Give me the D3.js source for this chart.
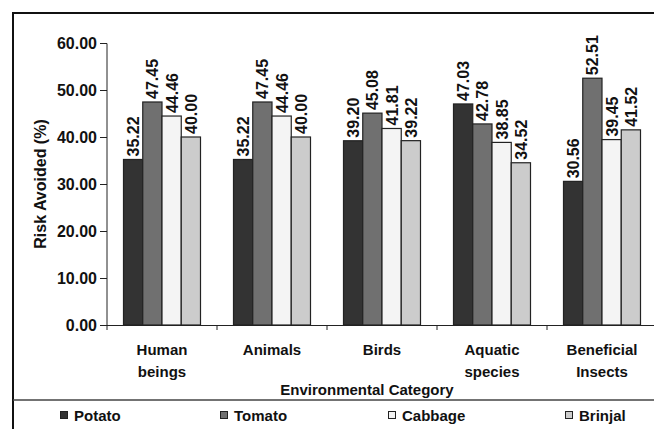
<!DOCTYPE html>
<html>
<head>
<meta charset="utf-8">
<script src="https://cdn.jsdelivr.net/npm/d3@7"></script>
<style>
  html, body { margin: 0; padding: 0; background: #fff; }
  svg { display: block; font-family: "Liberation Sans", Arial, sans-serif; }
</style>
</head>
<body>
<svg id="chart" width="654" height="429"></svg>
<script>
// Risk avoided (%) by environmental category and crop
const categories = [["Human", "beings"], ["Animals"], ["Birds"], ["Aquatic", "species"], ["Beneficial", "Insects"]];
const series = ["Potato", "Tomato", "Cabbage", "Brinjal"];
const potato  = [35.22, 35.22, 39.20, 47.03, 30.56];
const tomato  = [47.45, 47.45, 45.08, 42.78, 52.51];
const cabbage = [44.46, 44.46, 41.81, 38.85, 39.45];
const brinjal = [40.00, 40.00, 39.22, 34.52, 41.52];
const yTicks = [0, 10, 20, 30, 40, 50, 60];
const colors = ["#333333", "#707070", "#f4f4f4", "#cccccc"];

const values = [potato, tomato, cabbage, brinjal];
const catKeys = categories.map(c => c.join(" "));

const svg = d3.select("#chart");

// outer frame and legend separator
svg.append("path")
  .attr("d", "M13,429 V13 H654")
  .attr("fill", "none").attr("stroke", "#111").attr("stroke-width", 2);
svg.append("line")
  .attr("x1", 13).attr("x2", 654).attr("y1", 400).attr("y2", 400)
  .attr("stroke", "#444").attr("stroke-width", 1.5);

const x0 = d3.scaleBand().domain(catKeys).range([107, 657]).padding(0);
const x1 = d3.scaleBand().domain(series).range([16.5, x0.bandwidth() - 16.5]).padding(0);
const y = d3.scaleLinear().domain([0, 60]).range([325, 43]);

// y axis
const yAxis = svg.append("g").attr("transform", "translate(107,0)")
  .call(d3.axisLeft(y).tickValues(yTicks).tickSize(7).tickFormat(d3.format(".2f")));
yAxis.select(".domain").attr("stroke", "#222").attr("d", "M-7,43.5H0V325.5");
yAxis.selectAll(".tick line").attr("stroke", "#222");
yAxis.selectAll(".tick text")
  .attr("x", -10).attr("dy", "0.36em")
  .style("font-size", "16px").style("font-weight", "bold").attr("fill", "#111")
  .style("font-family", "'Liberation Sans', Arial, sans-serif");

// x axis
const xAxis = svg.append("g").attr("transform", "translate(0,325)")
  .call(d3.axisBottom(x0).tickSize(5).tickFormat(""));
xAxis.select(".domain").attr("stroke", "#222").attr("d", "M107,0.5H657");
xAxis.selectAll(".tick line")
  .attr("transform", `translate(${-x0.bandwidth() / 2},0)`).attr("stroke", "#222");

// category labels
const catLabels = svg.append("g");
categories.forEach((lines, i) => {
  const t = catLabels.append("text")
    .attr("x", x0(catKeys[i]) + x0.bandwidth() / 2)
    .attr("y", 355)
    .attr("text-anchor", "middle")
    .style("font-size", "15px").style("font-weight", "bold").attr("fill", "#111");
  lines.forEach((ln, j) => t.append("tspan")
    .attr("x", x0(catKeys[i]) + x0.bandwidth() / 2)
    .attr("dy", j === 0 ? 0 : 22).text(ln));
});

// bars
const groups = svg.append("g").selectAll("g")
  .data(catKeys).join("g")
  .attr("transform", d => `translate(${x0(d)},0)`);

groups.selectAll("rect")
  .data((d, i) => series.map((s, k) => ({ s, k, v: values[k][i] })))
  .join("rect")
  .attr("x", d => x1(d.s))
  .attr("width", x1.bandwidth())
  .attr("y", d => y(d.v))
  .attr("height", d => y(0) - y(d.v))
  .attr("fill", d => colors[d.k])
  .attr("stroke", "#222").attr("stroke-width", 1.2);

// value labels, rotated above each bar
groups.selectAll("text")
  .data((d, i) => series.map((s, k) => ({ s, k, v: values[k][i] })))
  .join("text")
  .attr("transform", d => `translate(${x1(d.s) + x1.bandwidth() / 2 + 6},${y(d.v) - 3}) rotate(-90)`)
  .style("font-size", "16px").style("font-weight", "bold").attr("fill", "#111")
  .text(d => d.v.toFixed(2));

// axis titles
svg.append("text")
  .attr("transform", "translate(46,184) rotate(-90)")
  .attr("text-anchor", "middle")
  .style("font-size", "16px").style("font-weight", "bold").attr("fill", "#111")
  .text("Risk Avoided (%)");

svg.append("text")
  .attr("x", 367).attr("y", 395)
  .attr("text-anchor", "middle")
  .style("font-size", "15px").style("font-weight", "bold").attr("fill", "#111")
  .text("Environmental Category");

// legend
const legendX = [60, 220, 388, 565];
const legend = svg.append("g").selectAll("g")
  .data(series).join("g")
  .attr("transform", (d, i) => `translate(${legendX[i]},0)`);
legend.append("rect")
  .attr("x", 0.5).attr("y", 411.5).attr("width", 7).attr("height", 7)
  .attr("fill", (d, i) => colors[i]).attr("stroke", "#222").attr("stroke-width", 1);
legend.append("text")
  .attr("x", 14).attr("y", 421)
  .style("font-size", "15px").style("font-weight", "bold").attr("fill", "#111")
  .text(d => d);
</script>
</body>
</html>
